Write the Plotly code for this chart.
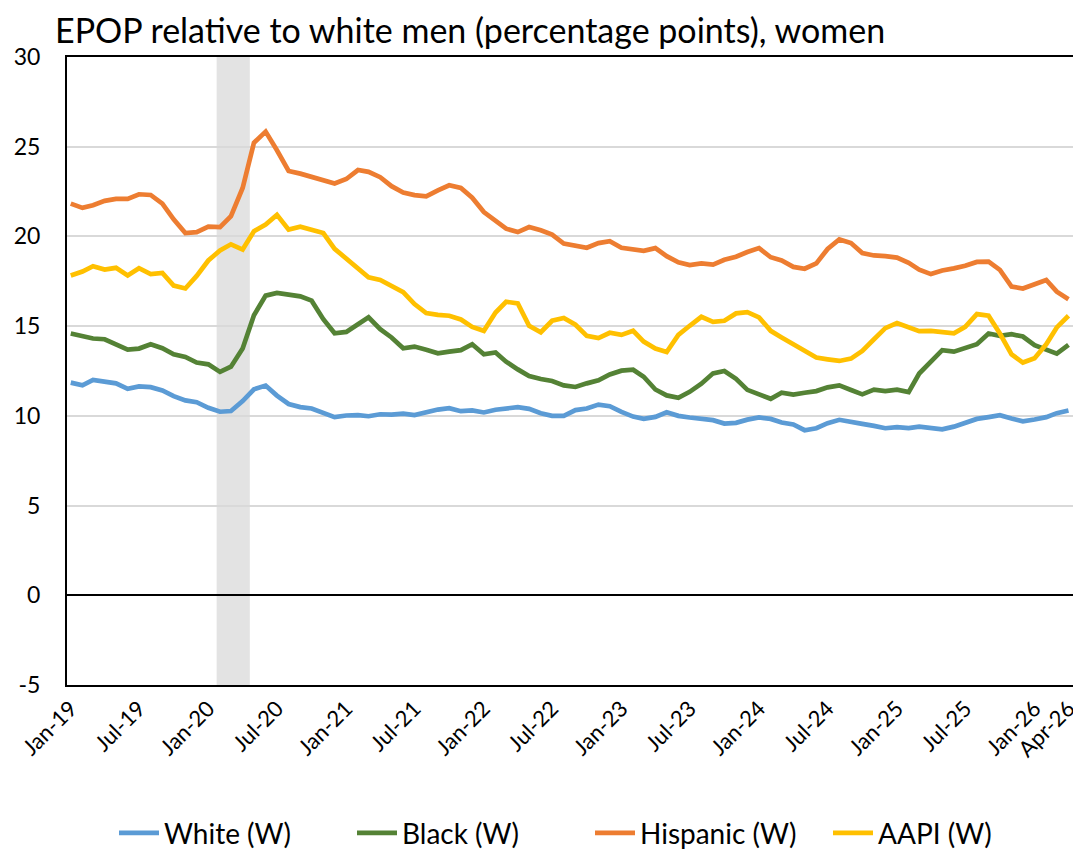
import pandas as pd
import plotly.graph_objects as go

months = pd.date_range("2019-01-01", periods=88, freq="MS")

white = [11.85, 11.7, 12.0, 11.92, 11.81, 11.51, 11.64, 11.6, 11.42, 11.1, 10.86, 10.76,
         10.45, 10.23, 10.27, 10.82, 11.48, 11.69, 11.13, 10.66, 10.49, 10.41, 10.15, 9.93,
         10.02, 10.04, 9.98, 10.09, 10.07, 10.12, 10.04, 10.2, 10.35, 10.43, 10.26, 10.3,
         10.19, 10.34, 10.41, 10.49, 10.39, 10.15, 10.0, 10.0, 10.32, 10.41, 10.63, 10.54,
         10.22, 9.96, 9.83, 9.94, 10.2, 10.0, 9.91, 9.85, 9.76, 9.57, 9.61, 9.79,
         9.91, 9.83, 9.63, 9.52, 9.2, 9.31, 9.59, 9.78, 9.69, 9.55, 9.44, 9.31,
         9.37, 9.32, 9.4, 9.33, 9.25, 9.4, 9.61, 9.83, 9.93, 10.04, 9.85, 9.7,
         9.8, 9.93, 10.15, 10.3]

black = [14.59, 14.42, 14.31, 14.27, 13.99, 13.69, 13.75, 13.99, 13.77, 13.43, 13.28, 12.97,
         12.87, 12.45, 12.74, 13.76, 15.61, 16.7, 16.85, 16.78, 16.66, 16.42, 15.39, 14.6,
         14.68, 15.11, 15.49, 14.83, 14.37, 13.77, 13.86, 13.69, 13.49, 13.58, 13.66, 13.99,
         13.43, 13.53, 13.02, 12.59, 12.22, 12.05, 11.94, 11.7, 11.61, 11.81, 11.98, 12.31,
         12.52, 12.57, 12.18, 11.47, 11.14, 11.01, 11.34, 11.79, 12.37, 12.5, 12.07, 11.45,
         11.23, 10.95, 11.29, 11.18, 11.29, 11.38, 11.59, 11.7, 11.44, 11.2, 11.46, 11.38,
         11.46, 11.32, 12.36, 13.02, 13.66, 13.58, 13.79, 13.99, 14.59, 14.46, 14.55, 14.42,
         13.94, 13.71, 13.47, 13.96]

hispanic = [21.83, 21.59, 21.74, 21.98, 22.09, 22.09, 22.35, 22.31, 21.83, 20.95, 20.19, 20.24,
            20.54, 20.52, 21.13, 22.7, 25.22, 25.84, 24.8, 23.65, 23.5, 23.3, 23.1, 22.95,
            23.2, 23.7, 23.6, 23.3, 22.8, 22.45, 22.3, 22.24, 22.57, 22.85, 22.7, 22.16,
            21.36, 20.9, 20.43, 20.24, 20.52, 20.34, 20.1, 19.6, 19.46, 19.37, 19.63, 19.74,
            19.37, 19.31, 19.2, 19.35, 18.9, 18.56, 18.4, 18.5, 18.43, 18.7, 18.87, 19.13,
            19.35, 18.84, 18.66, 18.3, 18.2, 18.5, 19.3, 19.83, 19.63, 19.07, 18.94, 18.9,
            18.82, 18.53, 18.15, 17.9, 18.1, 18.22, 18.36, 18.58, 18.6, 18.13, 17.2, 17.1,
            17.35, 17.57, 16.92, 16.5]

aapi = [17.82, 18.04, 18.34, 18.15, 18.25, 17.82, 18.23, 17.9, 17.97, 17.26, 17.1, 17.8,
        18.66, 19.22, 19.56, 19.27, 20.29, 20.66, 21.2, 20.38, 20.54, 20.37, 20.19, 19.31,
        18.79, 18.19, 17.72, 17.57, 17.26, 16.9, 16.23, 15.73, 15.63, 15.58, 15.37, 14.96,
        14.74, 15.76, 16.36, 16.27, 15.02, 14.66, 15.3, 15.45, 15.08, 14.46, 14.33, 14.63,
        14.51, 14.74, 14.14, 13.75, 13.56, 14.51, 15.02, 15.52, 15.24, 15.3, 15.71, 15.78,
        15.49, 14.74, 14.37, 13.99, 13.62, 13.25, 13.15, 13.06, 13.19, 13.62, 14.27, 14.89,
        15.17, 14.96, 14.72, 14.74, 14.7, 14.6, 14.96, 15.67, 15.58, 14.59, 13.43, 12.97,
        13.21, 13.99, 14.93, 15.58]

series_names = ["White (W)", "Black (W)", "Hispanic (W)", "AAPI (W)"]
series_colors = ["#5B9BD5", "#548235", "#ED7D31", "#FFC000"]
series_values = [white, black, hispanic, aapi]

tick_dates = ["2019-01-01", "2019-07-01", "2020-01-01", "2020-07-01", "2021-01-01",
              "2021-07-01", "2022-01-01", "2022-07-01", "2023-01-01", "2023-07-01",
              "2024-01-01", "2024-07-01", "2025-01-01", "2025-07-01", "2026-01-01",
              "2026-04-01"]
tick_labels = ["Jan-19", "Jul-19", "Jan-20", "Jul-20", "Jan-21", "Jul-21", "Jan-22",
               "Jul-22", "Jan-23", "Jul-23", "Jan-24", "Jul-24", "Jan-25", "Jul-25",
               "Jan-26", "Apr-26"]

y_ticks = [-5, 0, 5, 10, 15, 20, 25, 30]
y_tick_labels = ["-5", "0", "5", "10", "15", "20", "25", "30"]

recession_start = "2020-01-23"
recession_end = "2020-04-20"

FONT = "Lato"
W, H = 1073, 848  # page adds an 8px body margin

fig = go.Figure()
for name, color, vals in zip(series_names, series_colors, series_values):
    fig.add_trace(go.Scatter(x=months, y=vals, mode="lines", name=name,
                             line=dict(color=color, width=4.7)))

fig.add_shape(type="rect", xref="x", yref="paper", x0=recession_start, x1=recession_end,
              y0=0, y1=1, fillcolor="#E3E3E3", line=dict(width=0), layer="between")

fig.update_layout(
    width=W, height=H,
    margin=dict(l=59, r=8, t=49, b=171, autoexpand=False),
    paper_bgcolor="white", plot_bgcolor="white",
    font=dict(family=FONT, size=22, color="black"),
    title=dict(text="EPOP relative to white men (percentage points), women",
               x=47 / W, xanchor="left", xref="container",
               y=1 - 23 / H, yanchor="middle", yref="container",
               font=dict(family=FONT, size=34, color="black")),
    showlegend=True,
    legend=dict(orientation="h", xref="container", x=106 / W, xanchor="left",
                y=-0.236, yanchor="middle", font=dict(family=FONT, size=28),
                itemwidth=40, entrywidth=183, entrywidthmode="pixels"),
)

fig.update_xaxes(
    type="date", range=["2018-12-22", "2026-04-13"],
    tickvals=tick_dates, ticktext=tick_labels, tickangle=-45,
    showgrid=False, showline=True, linecolor="black", linewidth=2, mirror=True,
    ticks="", tickfont=dict(family=FONT, size=22),
)
fig.update_yaxes(
    range=[-5, 30], tickvals=y_ticks, ticktext=y_tick_labels,
    showgrid=True, gridcolor="#D9D9D9", gridwidth=2,
    zeroline=True, zerolinecolor="black", zerolinewidth=2,
    showline=True, linecolor="black", linewidth=2, mirror=True,
    ticks="", ticklabelstandoff=20,
    tickfont=dict(family=FONT, size=23),
)

fig.write_html("out.html")
